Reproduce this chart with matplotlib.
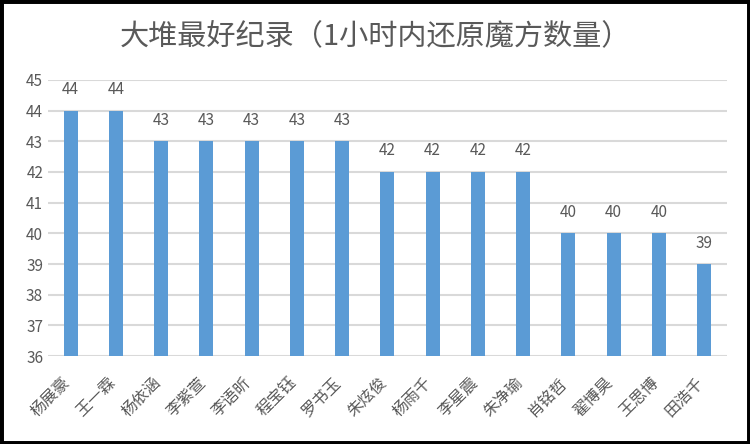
import matplotlib
matplotlib.use('Agg')
import matplotlib.pyplot as plt
from matplotlib.patches import Rectangle
from matplotlib.transforms import ScaledTranslation

plt.rcParams['font.family'] = ['Noto Sans CJK SC', 'DejaVu Sans']

names = ['杨展豪', '王一霖', '杨依涵', '李紫萱', '李语昕', '程宝钰', '罗书玉', '朱炫俊',
         '杨雨千', '李星震', '朱净瑜', '肖铭哲', '翟博昊', '王思博', '田浩千']
scores = [44, 44, 43, 43, 43, 43, 43, 42, 42, 42, 42, 40, 40, 40, 39]

bar_color = '#5b9bd5'
text_grey = '#595959'

fig = plt.figure(figsize=(7.5, 4.44), dpi=100)
ax = fig.add_axes([0.064, 0.198, 0.905, 0.622])

x = list(range(len(names)))
bars = ax.bar(x, scores, width=0.31, color=bar_color, zorder=3)
for xi, v in zip(x, scores):
    ax.annotate(str(v), (xi, v), xytext=(0, 9), textcoords='offset points',
                ha='center', va='bottom', fontsize=11, color=text_grey)

ax.set_ylim(36, 45)
ax.set_xlim(-0.5, len(names) - 0.5)
ax.set_yticks(range(36, 46))
ax.yaxis.grid(True, color='#d9d9d9', linewidth=1.5, zorder=0)
for s in ax.spines.values():
    s.set_visible(False)
ax.tick_params(axis='both', length=0, colors=text_grey, labelsize=11)
ax.set_xticks(x)
ax.set_xticklabels(names, rotation=45, ha='right', rotation_mode='anchor', fontsize=11.5)
# push the slanted names a bit left and down
shift = ScaledTranslation(-9 / 100, -13 / 100, fig.dpi_scale_trans)
for lab in ax.get_xticklabels():
    lab.set_transform(lab.get_transform() + shift)

fig.suptitle('大堆最好纪录（1小时内还原魔方数量）', x=0.5, y=0.95, fontsize=21,
             color=text_grey, fontweight='medium')

fig.patches.append(Rectangle((0, 0), 1, 1, transform=fig.transFigure, fill=False,
                             edgecolor='black', linewidth=5))

fig.savefig('out.png', dpi=100)
